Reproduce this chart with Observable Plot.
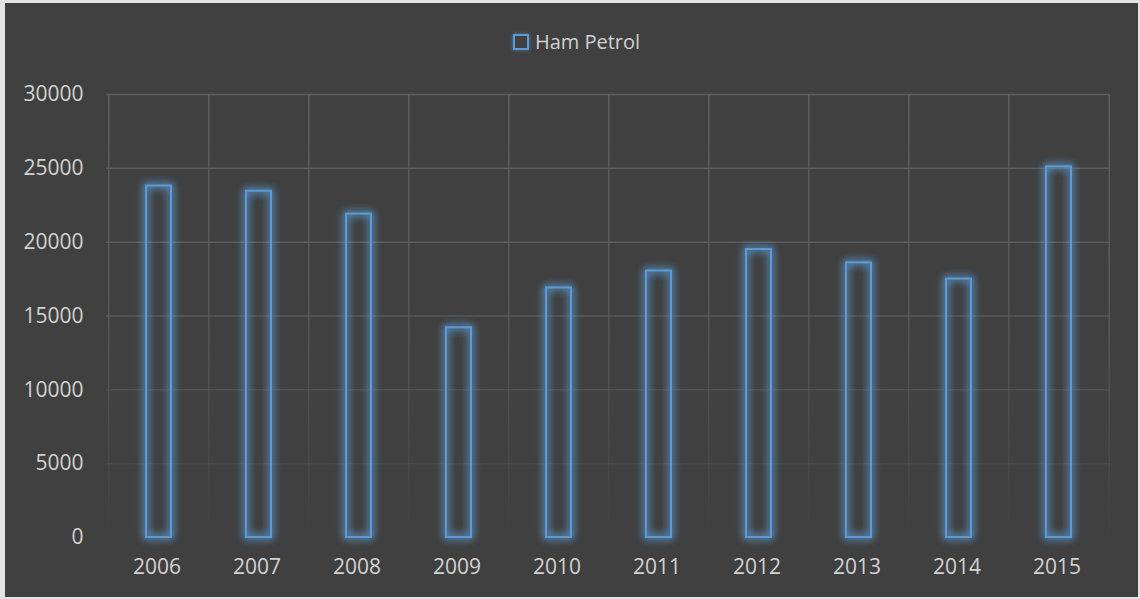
<!DOCTYPE html>
<html>
<head>
<meta charset="utf-8">
<script src="https://cdn.jsdelivr.net/npm/d3@7"></script>
<script src="https://cdn.jsdelivr.net/npm/@observablehq/plot@0.6"></script>
<style>
  html, body { margin: 0; padding: 0; background: #e3e3e3; width: 1140px; height: 599px; overflow: hidden; }
  #frame { position: absolute; left: 5px; top: 3px; width: 1133px; height: 594px; background: #404040; font-family: "Open Sans", sans-serif; }
  #legend { height: 67px; box-sizing: border-box; padding-top: 25px; display: flex; justify-content: center; align-items: flex-start; color: #d0d0d0; font-size: 20px; line-height: 27px; padding-left: 10px; }
  #legend .sw { width: 12px; height: 12px; border: 2px solid #5b9bd5; margin: 6px 6px 0 0; box-shadow: 0 0 4px rgba(91,155,213,0.6); }
  #chart svg { display: block; }
</style>
</head>
<body>
<div id="frame">
  <div id="legend"><div class="sw"></div><span>Ham Petrol</span></div>
  <div id="chart"></div>
</div>
<script>
const seriesName = "Ham Petrol";
const years = ["2006", "2007", "2008", "2009", "2010", "2011", "2012", "2013", "2014", "2015"];
const values = [23800, 23450, 21900, 14200, 16900, 18050, 19500, 18600, 17500, 25100];
const yTicks = [0, 5000, 10000, 15000, 20000, 25000, 30000];

const data = years.map((year, i) => ({year, value: values[i]}));

const W = 1133, H = 527, mL = 101, mR = 28, mT = 24, mB = 60;
const step = (W - mL - mR) / years.length;
const gridColor = "#5f5f5f";

const svg = Plot.plot({
  width: W, height: H,
  marginTop: mT, marginBottom: mB, marginLeft: mL, marginRight: mR,
  style: { background: "transparent", color: "#d2d2d2", fontSize: "21px", fontFamily: "Open Sans, sans-serif" },
  x: { domain: years, paddingInner: 0.75, paddingOuter: 0.375, label: null },
  y: { domain: [0, 30000], label: null },
  marks: [
    Plot.gridY(yTicks, { stroke: gridColor, strokeOpacity: 1, strokeWidth: 1.5 }),
    Plot.ruleX(years, { x: d => d, y1: 0, y2: 30000, dx: -step / 2, stroke: gridColor, strokeWidth: 1.5 }),
    Plot.ruleX([years[years.length - 1]], { x: d => d, y1: 0, y2: 30000, dx: step / 2, stroke: gridColor, strokeWidth: 1.5 }),
    Plot.barY(data, { x: "year", y: "value", fill: "none", stroke: "#5b9bd5", strokeWidth: 2 }),
    Plot.axisY(yTicks, { tickSize: 0, tickPadding: 23, fill: "#d2d2d2", tickFormat: d => String(d) }),
    Plot.axisX(years, { tickSize: 0, tickPadding: 22, fill: "#d2d2d2", dx: -2 })
  ]
});

// definitions: fading mask for gridlines, glow for bars
const ns = "http://www.w3.org/2000/svg";
const defs = document.createElementNS(ns, "defs");
defs.innerHTML = `
  <linearGradient id="fade" gradientUnits="userSpaceOnUse" x1="0" y1="${mT}" x2="0" y2="${H - mB}">
    <stop offset="0" stop-color="white" stop-opacity="1"/>
    <stop offset="0.45" stop-color="white" stop-opacity="0.85"/>
    <stop offset="1" stop-color="white" stop-opacity="0.05"/>
  </linearGradient>
  <mask id="gridMask" maskUnits="userSpaceOnUse" x="0" y="0" width="${W}" height="${H}">
    <rect x="0" y="0" width="${W}" height="${H}" fill="url(#fade)"/>
  </mask>
  <filter id="glow" x="-20%" y="-20%" width="140%" height="140%">
    <feGaussianBlur in="SourceGraphic" stdDeviation="4" result="b"/>
    <feComponentTransfer in="b" result="b2"><feFuncA type="linear" slope="2.4"/></feComponentTransfer>
    <feMerge><feMergeNode in="b2"/><feMergeNode in="SourceGraphic"/></feMerge>
  </filter>`;
svg.insertBefore(defs, svg.firstChild);

svg.querySelectorAll('g[aria-label="y-grid"], g[aria-label="rule"]').forEach(g => g.setAttribute("mask", "url(#gridMask)"));
svg.querySelectorAll('g[aria-label="bar"]').forEach(g => g.setAttribute("filter", "url(#glow)"));

document.getElementById("chart").appendChild(svg);
</script>
</body>
</html>
